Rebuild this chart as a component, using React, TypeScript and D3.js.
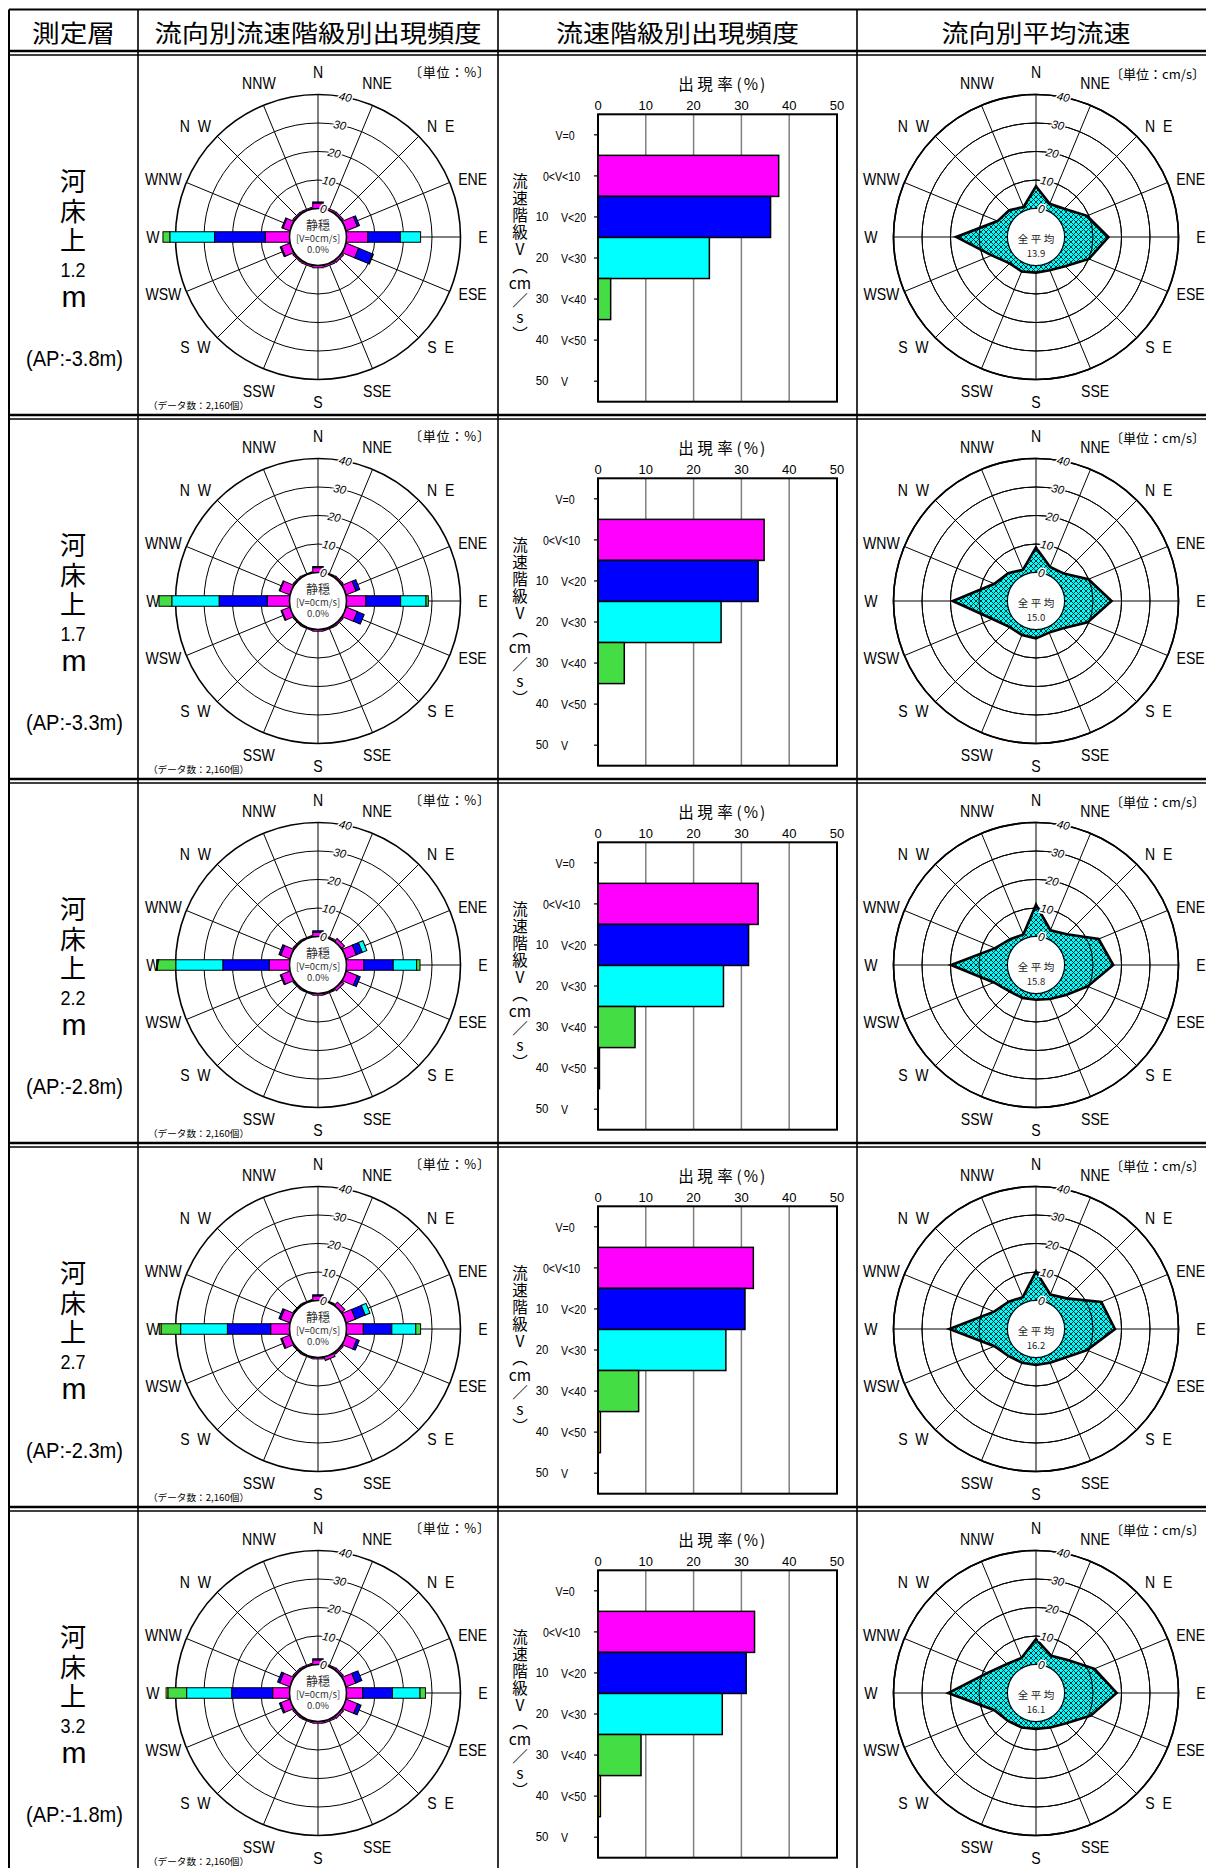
import React from 'react';
import * as d3 from 'd3';

// ---------- data ----------
const dirLabels = ['N', 'NNE', 'N  E', 'ENE', 'E', 'ESE', 'S  E', 'SSE', 'S', 'SSW', 'S  W', 'WSW', 'W', 'WNW', 'N  W', 'NNW'];
const heights = ['1.2', '1.7', '2.2', '2.7', '3.2'];
const apLevels = ['-3.8', '-3.3', '-2.8', '-2.3', '-1.8'];
const overallMean = ['13.9', '15.0', '15.8', '16.2', '16.1'];
const headers = ['測定層', '流向別流速階級別出現頻度', '流速階級別出現頻度', '流向別平均流速'];

const classLo = ['', '', '10', '20', '30', '40', '50'];
const classHi = ['V=0', '0<V<10', 'V<20', 'V<30', 'V<40', 'V<50', 'V'];
const classColors = ['#ffffff', '#ff00ff', '#0000ff', '#00ffff', '#44dd44', '#ffff00', '#ff9900'];
const barTicks = [0, 10, 20, 30, 40, 50];
const ringTicks = [0, 10, 20, 30, 40];

// speed class frequency (%) : V=0, 0<V<10, 10-20, 20-30, 30-40, 40-50, 50-
const classFreq1 = [0, 37.8, 36.1, 23.3, 2.65, 0, 0];
const classFreq2 = [0, 34.75, 33.5, 25.75, 5.5, 0, 0];
const classFreq3 = [0, 33.5, 31.5, 26.25, 7.75, 0.3, 0];
const classFreq4 = [0, 32.5, 30.75, 26.75, 8.5, 0.5, 0];
const classFreq5 = [0, 32.75, 31.0, 26.0, 9.0, 0.5, 0];

// direction x speed-class frequency (%), directions N..NNW; classes 0-10,10-20,20-30,30-40,40-50
const roseFreq1 = [
  [1.9, 0.6, 0.7, 4.2, 7.5, 4.7, 0.8, 0.7, 0.8, 0.6, 0.6, 3.2, 8.5, 2.6, 0.6, 0.5],
  [0.4, 0, 0, 0.8, 11.4, 5.3, 0, 0, 0, 0, 0, 0.4, 17.8, 0.4, 0, 0],
  [0, 0, 0, 0, 7.1, 0.3, 0, 0, 0, 0, 0, 0, 15.7, 0, 0, 0],
  [0, 0, 0, 0, 0, 0, 0, 0, 0, 0, 0, 0, 2.4, 0, 0, 0],
  [0, 0, 0, 0, 0, 0, 0, 0, 0, 0, 0, 0, 0, 0, 0, 0],
];
const roseFreq2 = [
  [1.7, 0.4, 0.6, 3.7, 6.8, 4.2, 0.6, 0.5, 0.6, 0.4, 0.4, 3.0, 7.8, 3.7, 0.5, 0.3],
  [0.4, 0, 0, 1.4, 12.2, 2.6, 0, 0, 0, 0, 0, 0.3, 16.9, 0.3, 0, 0],
  [0, 0, 0, 0, 8.9, 0, 0, 0, 0, 0, 0, 0, 16.6, 0, 0, 0],
  [0, 0, 0, 0, 0.8, 0, 0, 0, 0, 0, 0, 0, 4.5, 0, 0, 0],
  [0, 0, 0, 0, 0, 0, 0, 0, 0, 0, 0, 0, 0, 0, 0, 0],
];
const roseFreq3 = [
  [1.5, 0.5, 1.3, 3.8, 6.1, 4.2, 1.0, 0.5, 0.6, 0.4, 0.5, 3.2, 7.1, 3.4, 0.5, 0.4],
  [0.5, 0, 0, 2.3, 10.3, 1.1, 0, 0, 0, 0, 0, 0.4, 16.3, 0.7, 0, 0],
  [0, 0, 0, 1.7, 8.2, 0, 0, 0, 0, 0, 0, 0, 16.5, 0, 0, 0],
  [0, 0, 0, 0, 1.2, 0, 0, 0, 0, 0, 0, 0, 6.5, 0, 0, 0],
  [0, 0, 0, 0, 0, 0, 0, 0, 0, 0, 0, 0, 0.2, 0, 0, 0],
];
const roseFreq4 = [
  [1.6, 0.4, 1.5, 3.5, 5.9, 4.0, 0.6, 1.2, 0.5, 0.4, 0.4, 3.0, 6.6, 3.5, 0.4, 0.4],
  [0.4, 0, 0, 3.7, 10.0, 0.9, 0, 0, 0, 0, 0, 0.4, 15.2, 0.6, 0, 0],
  [0, 0, 0, 1.8, 8.4, 0, 0, 0, 0, 0, 0, 0, 16.4, 0, 0, 0],
  [0, 0, 0, 0, 1.7, 0, 0, 0, 0, 0, 0, 0, 6.9, 0, 0, 0],
  [0, 0, 0, 0, 0, 0, 0, 0, 0, 0, 0, 0, 0.6, 0, 0, 0],
];
const roseFreq5 = [
  [1.6, 0.5, 0.7, 3.6, 5.7, 4.3, 0.8, 0.6, 0.6, 0.5, 0.6, 3.4, 5.9, 3.8, 0.6, 0.5],
  [0.4, 0, 0, 2.3, 10.4, 1.3, 0, 0, 0, 0, 0, 0.5, 14.4, 0.8, 0, 0],
  [0, 0, 0, 0, 9.7, 0, 0, 0, 0, 0, 0, 0, 15.8, 0, 0, 0],
  [0, 0, 0, 0, 1.9, 0, 0, 0, 0, 0, 0, 0, 6.6, 0, 0, 0],
  [0, 0, 0, 0, 0, 0, 0, 0, 0, 0, 0, 0, 0.6, 0, 0, 0],
];

// mean speed by direction (cm/s), N..NNW
const meanSpeed1 = [7.8, 2.6, 4.0, 9.4, 15.4, 10.1, 4.5, 2.6, 2.5, 3.1, 3.1, 6.8, 18.0, 4.6, 3.3, 1.4];
const meanSpeed2 = [8.8, 2.9, 3.7, 9.9, 16.5, 9.6, 3.5, 2.0, 3.1, 2.9, 3.0, 6.5, 19.2, 5.8, 3.8, 1.9];
const meanSpeed3 = [11.2, 3.2, 5.3, 13.8, 17.1, 9.6, 4.9, 2.9, 2.2, 2.5, 3.1, 6.0, 19.8, 5.5, 2.8, 1.6];
const meanSpeed4 = [10.2, 3.1, 5.2, 14.8, 17.7, 9.4, 4.3, 2.8, 2.6, 2.8, 3.5, 5.8, 20.4, 5.9, 3.5, 2.1];
const meanSpeed5 = [8.9, 4.1, 6.2, 12.2, 18.3, 10.8, 5.0, 3.1, 2.6, 3.1, 3.9, 5.8, 20.8, 8.4, 4.4, 3.3];

const classFreqs = [classFreq1, classFreq2, classFreq3, classFreq4, classFreq5];
const roseFreqs = [roseFreq1, roseFreq2, roseFreq3, roseFreq4, roseFreq5];
const meanSpeeds = [meanSpeed1, meanSpeed2, meanSpeed3, meanSpeed4, meanSpeed5];

// ---------- layout ----------
const colX = [9, 138, 498, 857, 1215];
const rowTop = (i: number) => 56 + 364 * i;
const JP = "'Noto Sans CJK JP', 'Noto Sans', sans-serif";
const LAT = "'Liberation Sans', Arial, sans-serif";
// label placement angles (compass degrees) for the 16 direction names
const labelAngles = [0, 21, 48, 69.6, 90, 110.4, 132, 159, 180, 201, 228, 249.6, 270, 290.4, 312, 339];

const rScale = d3.scaleLinear().domain([0, 40]).range([28.5, 142.5]);
const polar = (cx: number, cy: number, deg: number, r: number): [number, number] => {
  const a = (deg * Math.PI) / 180;
  return [cx + r * Math.sin(a), cy - r * Math.cos(a)];
};

function RoseGrid({ cx, cy, ringsOnly }: { cx: number; cy: number; ringsOnly?: boolean }) {
  return (
    <g>
      {!ringsOnly &&
        dirLabels.map((_, i) => {
          const [x1, y1] = polar(cx, cy, i * 22.5, rScale(0));
          const [x2, y2] = polar(cx, cy, i * 22.5, rScale(40));
          return <line key={'s' + i} x1={x1} y1={y1} x2={x2} y2={y2} stroke="#000" strokeWidth={1} />;
        })}
      {ringTicks.map((v) => (
        <circle key={'c' + v} cx={cx} cy={cy} r={rScale(v)} fill="none" stroke="#000" strokeWidth={v === 40 ? 1.6 : v === 0 ? 1.4 : 1} />
      ))}
    </g>
  );
}

function RoseLabels({ cx, cy }: { cx: number; cy: number }) {
  return (
    <g>
      {ringTicks.map((v) => {
        const [x, y] = polar(cx, cy, 11, rScale(v));
        return (
          <text key={'t' + v} transform={`translate(${x},${y}) rotate(11)`} textAnchor="middle" dominantBaseline="central"
            fontSize={11.5} fontStyle="italic" fontFamily={LAT} fill="#000" stroke="#fff" strokeWidth={3} paintOrder="stroke">
            {v}
          </text>
        );
      })}
      {dirLabels.map((lab, i) => {
        const [x, y] = polar(cx, cy, labelAngles[i], 165);
        return (
          <text key={'d' + i} transform={`translate(${x},${y}) scale(0.88,1)`} textAnchor="middle" dominantBaseline="central"
            fontSize={16} fontFamily={LAT} xmlSpace="preserve" style={{ whiteSpace: 'pre' }}>
            {lab}
          </text>
        );
      })}
    </g>
  );
}

function FreqRose({ cx, cy, data }: { cx: number; cy: number; data: number[][] }) {
  const bw = 10.5;
  return (
    <g>
      <RoseGrid cx={cx} cy={cy} />
      {dirLabels.map((_, i) => {
        let cum = 0;
        const segs: JSX.Element[] = [];
        data.forEach((arr, k) => {
          const v = arr[i];
          if (v > 0) {
            segs.push(
              <rect key={k} x={rScale(cum)} y={-bw / 2} width={rScale(cum + v) - rScale(cum)} height={bw}
                fill={classColors[k + 1]} stroke="#000" strokeWidth={1} />
            );
            cum += v;
          }
        });
        return (
          <g key={i} transform={`translate(${cx},${cy}) rotate(${i * 22.5 - 90})`}>
            {segs}
          </g>
        );
      })}
      <circle cx={cx} cy={cy} r={rScale(0)} fill="#fff" stroke="#000" strokeWidth={1.6} />
      <RoseLabels cx={cx} cy={cy} />
      <text textAnchor="middle" dominantBaseline="central" fontFamily={JP} fill="#333">
        <tspan x={cx} y={cy - 13} fontSize={12}>静穏</tspan>
        <tspan x={cx} y={cy + 0.5} fontSize={9.5}>[V=0cm/s]</tspan>
        <tspan x={cx} y={cy + 12} fontSize={9.5}>0.0%</tspan>
      </text>
    </g>
  );
}

function MeanRose({ cx, cy, data, mean }: { cx: number; cy: number; data: number[]; mean: string }) {
  const line = d3
    .lineRadial<number>()
    .angle((_, i) => (i * Math.PI) / 8)
    .radius((v) => rScale(v))
    .curve(d3.curveLinearClosed);
  return (
    <g>
      <RoseGrid cx={cx} cy={cy} />
      <path d={line(data) || ''} transform={`translate(${cx},${cy})`} fill="url(#hatch)" stroke="none" />
      <RoseGrid cx={cx} cy={cy} ringsOnly />
      <path d={line(data) || ''} transform={`translate(${cx},${cy})`} fill="none" stroke="#000" strokeWidth={2.6} strokeLinejoin="miter" />
      <circle cx={cx} cy={cy} r={rScale(0) - 0.5} fill="#fff" stroke="none" />
      <RoseLabels cx={cx} cy={cy} />
      <text textAnchor="middle" dominantBaseline="central" fontFamily={JP} fill="#222">
        <tspan x={cx - 13} y={cy + 1} fontSize={10.5}>全</tspan>
        <tspan x={cx} y={cy + 1} fontSize={10.5}>平</tspan>
        <tspan x={cx + 13} y={cy + 1} fontSize={10.5}>均</tspan>
        <tspan x={cx} y={cy + 15.5} fontSize={9.5}>{mean}</tspan>
      </text>
    </g>
  );
}

function ClassBars({ top, data }: { top: number; data: number[] }) {
  const x = d3.scaleLinear().domain([0, 50]).range([598, 837]);
  const y = d3.scaleBand<number>().domain(classHi.map((_, i) => i)).range([top + 58.3, top + 345.7]).padding(0);
  const bt = top + 58.3, bb = top + 345.7;
  const vTitle = ['流', '速', '階', '級', 'V', '︵', 'cm', '／', 's', '︶'];
  return (
    <g>
      {barTicks.slice(1, -1).map((t) => (
        <line key={'g' + t} x1={x(t)} x2={x(t)} y1={bt} y2={bb} stroke="#808080" strokeWidth={1.5} />
      ))}
      {data.map((v, i) =>
        v > 0 ? (
          <rect key={'b' + i} x={x(0)} y={y(i)!} width={x(v) - x(0)} height={y.bandwidth()} fill={classColors[i]} stroke="#000" strokeWidth={1.5} />
        ) : null
      )}
      <rect x={x(0)} y={bt} width={x(50) - x(0)} height={bb - bt} fill="none" stroke="#000" strokeWidth={2} />
      {classHi.map((_, i) => (
        <line key={'k' + i} x1={x(0) - 4} x2={x(0)} y1={y(i)! + y.bandwidth() / 2} y2={y(i)! + y.bandwidth() / 2} stroke="#000" strokeWidth={1.2} />
      ))}
      {barTicks.map((t) => (
        <text key={'x' + t} x={x(t)} y={top + 49} textAnchor="middle" dominantBaseline="central" fontSize={13} fontFamily={LAT}>{t}</text>
      ))}
      <text textAnchor="middle" dominantBaseline="central" fontSize={15.5} fontFamily={JP}>
        <tspan x={686} y={top + 27}>出</tspan>
        <tspan x={705} y={top + 27}>現</tspan>
        <tspan x={725} y={top + 27}>率</tspan>
        <tspan x={752} y={top + 27} letterSpacing={2}>(%)</tspan>
      </text>
      {classHi.map((lab, i) => {
        const cy = y(i)! + y.bandwidth() / 2;
        if (classLo[i] === '') {
          return (
            <text key={'l' + i} transform={`translate(${i === 0 ? 565 : 561.5},${cy}) scale(0.85,1)`} textAnchor="middle" dominantBaseline="central" fontSize={12.5} fontFamily={LAT}>{lab}</text>
          );
        }
        return (
          <g key={'l' + i}>
            <text transform={`translate(${542},${cy}) scale(0.88,1)`} textAnchor="middle" dominantBaseline="central" fontSize={13} fontFamily={LAT}>{classLo[i]}</text>
            <text transform={`translate(${561},${cy}) scale(0.85,1)`} textAnchor="start" dominantBaseline="central" fontSize={12.5} fontFamily={LAT}>{lab}</text>
          </g>
        );
      })}
      <text textAnchor="middle" dominantBaseline="central" fontSize={15.5} fontFamily={JP}>
        {vTitle.map((c, k) => (
          <tspan key={'v' + k} x={520} y={top + 124 + k * 17}>{c}</tspan>
        ))}
      </text>
    </g>
  );
}

export default function App() {
  const rows = [0, 1, 2, 3, 4];
  const headerCx = [73.5, 318, 677.5, 1036];
  const headerLen = [83, 327, 243, 189];
  return (
    <svg width={1206} height={1868} style={{ position: 'absolute', left: 0, top: 0, background: '#fff' }}>
      <defs>
        <pattern id="hatch" width={5} height={5} patternUnits="userSpaceOnUse">
          <rect width={5} height={5} fill="#00ffff" />
          <path d="M0,0 L5,5 M5,0 L0,5" stroke="#001a1a" strokeWidth={0.9} />
        </pattern>
      </defs>
      <rect width={1206} height={1868} fill="#fff" />

      {/* header */}
      {headers.map((h, i) => (
        <text key={h} x={headerCx[i]} y={31} textAnchor="middle" dominantBaseline="central" fontSize={24} fontFamily={JP}
          textLength={headerLen[i]} lengthAdjust="spacingAndGlyphs">{h}</text>
      ))}

      {rows.map((i) => {
        const top = rowTop(i);
        const c = top + 181;
        return (
          <g key={i}>
            {/* left label */}
            <text textAnchor="middle" dominantBaseline="central" fontSize={26} fontFamily={JP}>
              {['河', '床', '上'].map((ch, k) => (
                <tspan key={ch} x={73} y={c - 58 + k * 29.5}>{ch}</tspan>
              ))}
            </text>
            <text x={73} y={c + 32} textAnchor="middle" dominantBaseline="central" fontSize={21} fontFamily={LAT} textLength={25} lengthAdjust="spacingAndGlyphs">{heights[i]}</text>
            <text x={74} y={c + 59} textAnchor="middle" dominantBaseline="central" fontSize={30} fontFamily={LAT}>m</text>
            <text x={74.5} y={c + 121} textAnchor="middle" dominantBaseline="central" fontSize={22} fontFamily={LAT} textLength={97} lengthAdjust="spacingAndGlyphs">{`(AP:${apLevels[i]}m)`}</text>

            {/* frequency rose */}
            <FreqRose cx={318} cy={c} data={roseFreqs[i]} />
            <text x={409} y={top + 15} textAnchor="start" dominantBaseline="central" fontSize={13} fontFamily={JP}
              textLength={81} lengthAdjust="spacing">〔単位：%〕</text>
            <text x={148} y={top + 349} textAnchor="start" dominantBaseline="central" fontSize={9.5} fontFamily={JP}
              textLength={101} lengthAdjust="spacingAndGlyphs">（データ数：2,160個）</text>

            {/* class bars */}
            <ClassBars top={top} data={classFreqs[i]} />

            {/* mean speed rose */}
            <MeanRose cx={1036} cy={c} data={meanSpeeds[i]} mean={overallMean[i]} />
            <text x={1110} y={top + 17} textAnchor="start" dominantBaseline="central" fontSize={13} fontFamily={JP}
              textLength={95} lengthAdjust="spacing">〔単位：cm/s〕</text>

            {/* separator double line above row */}
            <line x1={colX[0]} x2={colX[4]} y1={top - 5} y2={top - 5} stroke="#000" strokeWidth={2.5} />
            <line x1={colX[0]} x2={colX[4]} y1={top - 1} y2={top - 1} stroke="#000" strokeWidth={1.5} />
          </g>
        );
      })}

      {/* table frame */}
      <line x1={colX[0]} x2={colX[4]} y1={9.5} y2={9.5} stroke="#000" strokeWidth={2} />
      {colX.slice(0, 4).map((x, i) => (
        <line key={'cx' + i} x1={x} x2={x} y1={9.5} y2={1868} stroke="#000" strokeWidth={i === 0 ? 2 : 1.6} />
      ))}
    </svg>
  );
}
